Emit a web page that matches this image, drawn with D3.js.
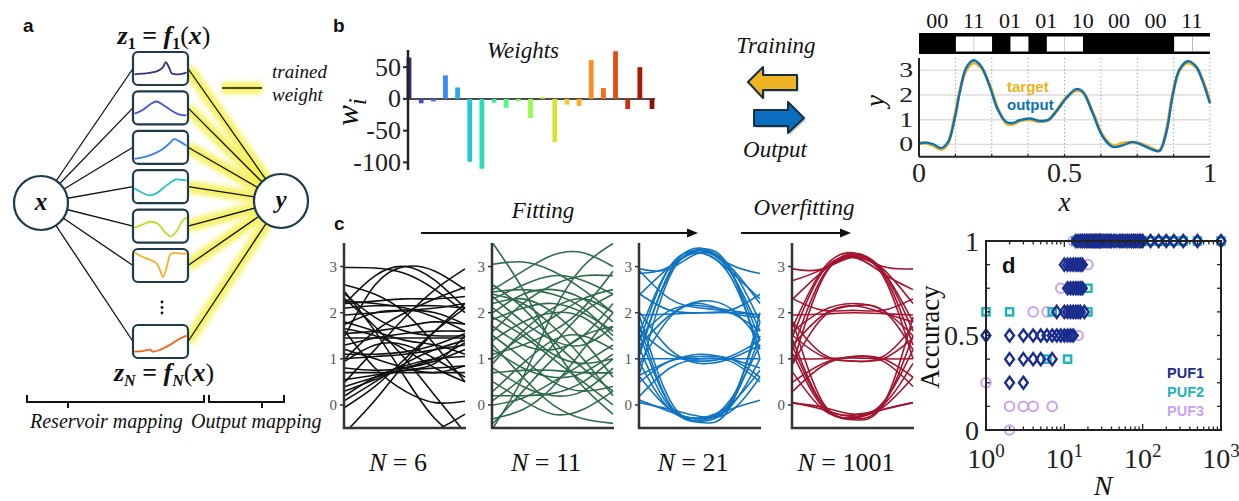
<!DOCTYPE html>
<html><head><meta charset="utf-8">
<script src="https://cdn.jsdelivr.net/npm/d3@7"></script>
<style>body{margin:0;background:#fff}svg{display:block}</style>
</head><body><script>
// ---------------- data ----------------
// (a) example reservoir feature curves, [x, z] pairs in unit box coordinates
const featureCurves = [
  [[0,0.3],[0.15,0.32],[0.3,0.35],[0.45,0.42],[0.55,0.55],[0.6,0.72],[0.66,0.55],[0.72,0.33],[0.85,0.3],[1,0.36]],
  [[0,0.3],[0.15,0.42],[0.3,0.62],[0.42,0.72],[0.55,0.6],[0.7,0.42],[0.85,0.28],[1,0.24]],
  [[0,0.1],[0.2,0.17],[0.4,0.3],[0.55,0.45],[0.68,0.65],[0.76,0.78],[0.85,0.72],[1,0.55]],
  [[0,0.45],[0.14,0.3],[0.28,0.2],[0.42,0.27],[0.6,0.52],[0.8,0.75],[0.9,0.74],[1,0.72]],
  [[0,0.45],[0.15,0.55],[0.3,0.65],[0.45,0.58],[0.58,0.3],[0.7,0.15],[0.82,0.35],[0.92,0.68],[1,0.8]],
  [[0,0.95],[0.15,0.8],[0.3,0.7],[0.42,0.58],[0.5,0.3],[0.55,0.1],[0.62,0.45],[0.7,0.9],[0.85,0.92],[1,0.9]],
  [[0,0.15],[0.15,0.17],[0.3,0.22],[0.35,0.15],[0.5,0.22],[0.7,0.4],[0.85,0.58],[1,0.7]]
];
const featureColors = ["#3b2f80", "#4755d6", "#3b82f0", "#27c3c6", "#b8df2a", "#f5b027", "#f0641c"];

// (b) trained output weights
const weights = [65, -7, -4, 37, 18, -99, -110, -6, -14, -4, -30, 3, -68, -9, -11, 61, 17, 75, -16, 50, -16];
const weightTicks = [50, 0, -50, -100];

// (b) encoded symbols and fitted waveform
const bitSymbols = ["00", "11", "01", "01", "10", "00", "00", "11"];
const fitX = [0, .025, .05, .077, .1, .122, .14, .162, .188, .214, .243, .271, .3, .323, .346, .38, .414, .443, .471, .506, .54, .563, .597, .632, .666, .7, .735, .769, .803, .826, .849, .872, .895, .923, .952, .975, 1];
const targetY = [0.05, 0.05, -0.05, -0.2, 0.05, 1.1, 2.15, 3.0, 3.3, 3.1, 2.4, 1.45, 0.85, 0.82, 0.95, 1.0, 0.92, 0.98, 1.35, 1.9, 2.18, 2.1, 1.3, 0.35, -0.05, 0.05, 0.08, 0.0, -0.18, -0.25, 0.5, 2.05, 3.0, 3.3, 3.12, 2.6, 1.7];
const outputY = [0.03, 0.07, 0.0, -0.15, 0.1, 1.0, 2.1, 3.1, 3.41, 3.16, 2.35, 1.4, 0.91, 0.87, 0.98, 1.05, 0.95, 0.98, 1.32, 1.87, 2.24, 2.14, 1.26, 0.3, -0.1, -0.04, 0.1, -0.04, -0.22, -0.27, 0.44, 2.0, 3.03, 3.37, 3.16, 2.55, 1.66];
const fitYTicks = [0, 1, 2, 3];
const fitXTicks = [0, 0.5, 1];

// (c) readout traces, sampled at readoutX
const readoutX = [0, 0.25, 0.5, 0.75, 1];
const readoutTicks = [0, 1, 2, 3];
const readoutN = ["6", "11", "21", "1001"];
const tracesN6 = [
  [2.98,2.97,2.85,2.5,2.0],[1.5,2.6,3.0,2.9,2.5],[2.2,2.8,3.0,2.7,2.1],[0.5,1.2,1.9,2.5,2.95],
  [2.45,1.6,0.6,-0.3,-0.8],[2.3,1.7,1.0,0.2,-0.6],[-0.6,0.1,0.9,1.6,2.2],[1.6,0.8,0.3,0.05,0.08],
  [0.1,0.5,0.9,1.2,1.4],[0.2,0.6,0.85,1.0,1.05],[0.3,0.55,0.8,1.0,1.35],[0.4,0.6,0.75,0.9,1.5],
  [0.55,0.65,0.75,0.8,0.85],[0.7,0.7,0.7,0.7,0.7],[0.8,0.75,0.8,0.95,1.2],[1.0,1.05,1.1,1.2,1.3],
  [1.1,1.1,1.15,1.3,1.55],[1.2,1.0,0.8,0.7,0.85],[1.3,1.45,1.55,1.6,1.6],[1.45,1.45,1.45,1.45,1.45],
  [1.55,1.6,1.7,1.8,1.75],[1.65,1.5,1.2,0.8,0.5],[1.75,2.0,2.05,2.0,1.75],[1.8,1.6,1.4,1.3,1.1],
  [1.95,2.0,2.05,2.1,2.2],[2.1,2.15,2.15,2.15,2.1],[2.2,2.25,2.3,2.3,2.35],[2.25,2.2,2.1,1.9,1.6],
  [2.4,1.9,1.6,1.5,1.5],[1.0,1.6,2.0,2.3,2.55],[-0.05,0.4,1.0,1.6,2.1],[0.95,1.3,1.3,1.0,0.6],
  [-0.9,-0.8,-0.7,-0.55,-0.2],[2.6,2.4,2.0,1.3,0.5]
];
const tracesN11 = [
  [3.05,3.1,2.9,2.5,2.0],[2.5,2.9,3.25,3.3,3.0],[-0.5,0.6,2.0,3.0,3.5],[3.5,2.5,1.3,0.4,-0.2],
  [2.45,2.5,2.4,2.1,1.5],[2.4,2.2,1.7,1.0,0.2],[2.3,2.6,2.8,2.7,2.4],[2.0,2.4,2.5,2.3,1.8],
  [1.9,1.5,1.0,0.5,0.0],[1.85,2.1,2.2,2.0,1.6],[1.6,2.2,2.6,2.8,2.8],[1.5,1.0,0.5,0.3,0.4],
  [1.4,1.8,2.0,1.9,1.4],[1.2,0.8,0.6,0.7,1.1],[1.0,1.5,1.9,2.3,2.5],[0.8,0.4,0.2,0.3,0.8],
  [0.7,0.75,0.75,0.7,0.7],[0.5,0.1,-0.2,-0.1,0.3],[0.2,0.2,0.25,0.5,1.0],[0.1,0.6,1.3,2.0,2.4],
  [-0.3,-0.1,0.4,1.2,2.0],[-0.4,0.3,1.0,1.5,1.7],[2.1,1.6,1.1,0.9,1.0],[2.2,2.3,2.0,1.4,0.6],
  [1.7,1.3,1.2,1.5,2.2],[0.3,0.9,1.4,1.5,1.2],[1.1,1.3,1.6,2.1,2.9],[2.6,2.1,1.4,0.8,0.3],
  [0.9,1.6,2.1,2.3,2.0],[1.3,0.6,0.0,-0.3,-0.4],[2.35,1.8,1.4,1.3,1.7],[0.0,0.15,0.5,0.9,1.3]
];
const tracesN21 = [
  [1.1,2.9,3.4,2.9,1.4],[0.7,2.8,3.35,3.0,1.8],[1.4,3.0,3.3,2.8,1.2],[1.6,3.0,3.35,2.9,1.6],
  [2.95,2.95,3.3,3.0,2.2],[2.85,3.0,3.35,3.05,2.85],[2.4,3.0,3.3,2.9,2.3],[1.2,2.85,3.38,2.95,1.0],
  [1.5,0.0,-0.35,0.0,1.5],[1.2,-0.05,-0.3,0.05,1.8],[0.9,-0.1,-0.3,-0.05,1.0],[1.9,0.1,-0.35,0.1,1.3],
  [0.1,-0.15,-0.3,-0.1,0.1],[0.05,-0.1,-0.25,-0.15,0.6],[1.7,0.0,-0.38,-0.05,2.0],[0.6,-0.1,-0.28,0.0,0.75],
  [1.3,1.95,2.2,2.0,1.9],[1.5,2.05,2.15,2.05,1.95],[2.4,2.05,2.0,2.05,2.4],[1.95,1.97,2.0,2.0,1.95],
  [0.9,1.9,2.25,2.1,1.4],[2.9,2.3,2.1,2.0,1.6],
  [0.5,0.95,1.05,1.0,0.6],[1.6,1.1,0.95,1.05,1.4],[1.0,1.0,1.0,1.0,1.0],[0.2,0.8,1.0,0.95,0.5],
  [2.0,1.2,0.9,1.0,1.3],[0.65,0.95,1.1,1.0,0.8]
];
const tracesN1001 = [
  [1.2,2.8,3.25,2.85,1.3],[0.9,2.75,3.28,2.9,1.6],[1.5,2.9,3.22,2.8,1.0],[2.95,2.95,3.2,3.0,2.95],
  [2.7,2.95,3.25,2.95,2.2],[1.7,2.95,3.3,2.9,1.8],[2.3,2.9,3.2,2.85,2.5],
  [1.4,0.0,-0.3,0.0,1.5],[1.1,-0.05,-0.28,0.05,1.2],[0.05,-0.1,-0.25,-0.1,0.05],[0.04,-0.05,-0.2,-0.1,0.05],
  [1.8,0.05,-0.32,0.0,1.9],[0.7,-0.1,-0.28,-0.05,0.6],[1.25,0.0,-0.22,0.0,0.9],
  [1.3,1.95,2.15,2.0,1.8],[1.95,1.97,2.0,1.98,1.95],[1.6,2.05,2.2,2.05,1.5],[2.3,2.05,2.05,2.05,2.3],
  [0.9,1.9,2.15,2.05,1.2],
  [0.5,0.9,1.05,1.0,0.6],[1.5,1.05,0.95,1.0,1.45],[1.0,1.0,1.02,1.0,1.0],[0.3,0.85,1.05,0.95,0.4],
  [1.8,1.1,0.95,1.05,1.7]
];

// (d) classification accuracy vs number of features N, [N, accuracy]
const puf3 = [
  [2,0],[2,0.125],[3,0.125],[4,0.125],[7,0.125],[1,0.25],[15,0.5],[4,0.625],[6,0.625],
  [9,0.75],[20,0.875],[13,1],[15,1],[20,1],[30,1],[50,1],[100,1]
];
const puf2 = [
  [1,0.625],[2,0.625],[7,0.625],[20,0.625],[6,0.375],[11,0.375],[12,0.5],[20,0.75],[13,0.875],
  [14,1],[16,1],[20,1],[25,1],[30,1],[40,1],[50,1],[70,1],[100,1],[126,1],[160,1],[200,1],[250,1],[330,1],[500,1],[1000,1]
];
const puf1 = [
  [2,0.25],[3,0.25],
  [2,0.375],[3,0.375],[4,0.375],[5,0.375],[7,0.375],
  [1,0.5],[2,0.5],[3,0.5],[4,0.5],[5,0.5],[6,0.5],[7,0.5],[8,0.5],[9,0.5],[10,0.5],[11,0.5],[12,0.5],[13,0.5],
  [8,0.625],[10,0.625],[11,0.625],[12,0.625],[13,0.625],[14,0.625],[15,0.625],[16,0.625],[18,0.625],
  [11,0.75],[12,0.75],[13,0.75],[14,0.75],[15,0.75],[16,0.75],[17,0.75],
  [10,0.875],[11,0.875],[12,0.875],[13,0.875],[14,0.875],[15,0.875],[16,0.875],[17,0.875],
  [14,1],[15,1],[16,1],[17,1],[18,1],[19,1],[20,1],[21,1],[22,1],[23,1],[24,1],[25,1],[26,1],[27,1],[28,1],[29,1],[30,1],
  [32,1],[34,1],[36,1],[38,1],[40,1],[43,1],[46,1],[50,1],[53,1],[56,1],[60,1],[64,1],[68,1],[72,1],[76,1],[80,1],
  [85,1],[90,1],[95,1],[100,1],[126,1],[160,1],[200,1],[250,1],[330,1],[500,1],[1000,1]
];
const accTicks = [0, 0.5, 1];
const nTicks = [1, 10, 100, 1000];

// ---------------- drawing ----------------
const SERIF = "'Liberation Serif','Times New Roman',serif";
const SANS = "'Liberation Sans',Arial,sans-serif";
const INK = "#1d3b4b";

const svg = d3.select("body").append("svg").attr("width", 1239).attr("height", 501);
const defs = svg.append("defs");
defs.append("filter").attr("id", "glow").attr("filterUnits", "userSpaceOnUse")
  .attr("x", 0).attr("y", 0).attr("width", 1239).attr("height", 501)
  .append("feGaussianBlur").attr("stdDeviation", 2.8);

function label(g, x, y, str, o = {}) {
  return g.append("text").attr("x", x).attr("y", y).text(str)
    .attr("font-family", o.family || SERIF).attr("font-size", o.size || 20)
    .attr("font-style", o.italic ? "italic" : null).attr("font-weight", o.bold ? "bold" : null)
    .attr("text-anchor", o.anchor || "start").attr("fill", o.fill || "#111");
}

// ===== panel a: reservoir network =====
const gA = svg.append("g");
label(gA, 23, 32, "a", {family: SANS, bold: true, size: 19});
const boxX = 133, boxW = 55, boxH = 33;
const boxTop = i => i < 6 ? 52 + i * 39.4 : 325;
const inNode = {x: 41, y: 203}, outNode = {x: 281, y: 201}, nodeR = 27;

featureCurves.forEach((c, i) => {
  const ym = boxTop(i) + boxH / 2;
  gA.append("line").attr("x1", inNode.x).attr("y1", inNode.y).attr("x2", boxX).attr("y2", ym)
    .attr("stroke", "#111").attr("stroke-width", 1.3);
});
featureCurves.forEach((c, i) => {
  const ym = boxTop(i) + boxH / 2;
  gA.append("line").attr("x1", boxX + boxW).attr("y1", ym).attr("x2", outNode.x).attr("y2", outNode.y)
    .attr("stroke", "#f3ee3c").attr("stroke-width", 12).attr("opacity", 0.8).attr("filter", "url(#glow)");
});
featureCurves.forEach((c, i) => {
  const ym = boxTop(i) + boxH / 2;
  gA.append("line").attr("x1", boxX + boxW).attr("y1", ym).attr("x2", outNode.x).attr("y2", outNode.y)
    .attr("stroke", "#111").attr("stroke-width", 1.3);
});
featureCurves.forEach((c, i) => {
  const t = boxTop(i);
  gA.append("rect").attr("x", boxX).attr("y", t).attr("width", boxW).attr("height", boxH).attr("rx", 5)
    .attr("fill", "#fff").attr("stroke", INK).attr("stroke-width", 2.2);
  const fx = d3.scaleLinear().domain([0, 1]).range([boxX + 1.5, boxX + boxW - 1.5]);
  const fy = d3.scaleLinear().domain([0, 1]).range([t + boxH - 2, t + 2]);
  gA.append("path").attr("d", d3.line().x(d => fx(d[0])).y(d => fy(d[1])).curve(d3.curveCatmullRom)(c))
    .attr("fill", "none").attr("stroke", featureColors[i]).attr("stroke-width", 1.8);
});
[302, 307.5, 313].forEach(y => gA.append("circle").attr("cx", 162).attr("cy", y).attr("r", 1.4).attr("fill", "#111"));

[inNode, outNode].forEach((n, k) => {
  gA.append("circle").attr("cx", n.x).attr("cy", n.y).attr("r", nodeR).attr("fill", "#fff")
    .attr("stroke", INK).attr("stroke-width", 2.2);
  label(gA, n.x, n.y + 7, k ? "y" : "x", {italic: true, bold: true, size: 25, anchor: "middle"});
});

function formula(cx, y, sub, subItalic) {
  const t = gA.append("text").attr("x", cx).attr("y", y).attr("text-anchor", "middle")
    .attr("font-family", SERIF).attr("font-size", 26).attr("font-weight", "bold").attr("fill", "#111");
  t.append("tspan").attr("font-style", "italic").text("z");
  t.append("tspan").attr("font-size", 16).attr("dy", 5).attr("font-style", subItalic ? "italic" : null).text(sub);
  t.append("tspan").attr("dy", -5).text(" = ");
  t.append("tspan").attr("font-style", "italic").text("f");
  t.append("tspan").attr("font-size", 16).attr("dy", 5).attr("font-style", subItalic ? "italic" : null).text(sub);
  t.append("tspan").attr("dy", -5).attr("font-weight", "normal").text("(");
  t.append("tspan").attr("font-style", "italic").text("x");
  t.append("tspan").attr("font-weight", "normal").text(")");
}
formula(164, 44, "1", false);
formula(164, 381, "N", true);

// legend: trained weight
gA.append("line").attr("x1", 222).attr("x2", 262).attr("y1", 88).attr("y2", 88)
  .attr("stroke", "#f3ee3c").attr("stroke-width", 12).attr("opacity", 0.8).attr("filter", "url(#glow)");
gA.append("line").attr("x1", 222).attr("x2", 262).attr("y1", 88).attr("y2", 88).attr("stroke", "#111").attr("stroke-width", 1.3);
label(gA, 272, 78, "trained", {italic: true, size: 19});
label(gA, 272, 101, "weight", {italic: true, size: 19});

// braces
const brace = (x0, x1, xm) => `M${x0},395 L${x0},402 L${x1},402 L${x1},395 M${xm},402 L${xm},408`;
gA.append("path").attr("d", brace(27, 204, 68)).attr("fill", "none").attr("stroke", "#111").attr("stroke-width", 2);
gA.append("path").attr("d", brace(209, 284, 262)).attr("fill", "none").attr("stroke", "#111").attr("stroke-width", 2);
label(gA, 30, 428, "Reservoir mapping", {italic: true, size: 20});
label(gA, 191, 428, "Output mapping", {italic: true, size: 20});

// ===== panel b: weights bar chart =====
const gB = svg.append("g");
label(gB, 333, 32, "b", {family: SANS, bold: true, size: 19});
const wy = d3.scaleLinear().domain([-112, 77]).range([170, 50]);
const wx = d3.scalePoint().domain(d3.range(weights.length)).range([409, 652]);
gB.append("line").attr("x1", 409).attr("x2", 655).attr("y1", wy(0)).attr("y2", wy(0)).attr("stroke", "#111").attr("stroke-width", 1.5);
gB.selectAll("rect.w").data(weights).join("rect")
  .attr("x", (d, i) => wx(i) - 2.4).attr("width", 4.8)
  .attr("y", d => wy(Math.max(0, d))).attr("height", d => Math.abs(wy(d) - wy(0)))
  .attr("fill", (d, i) => d3.interpolateTurbo(0.03 + 0.94 * i / (weights.length - 1)));
gB.append("line").attr("x1", 408).attr("x2", 408).attr("y1", 50).attr("y2", 170).attr("stroke", "#222").attr("stroke-width", 2.5);
weightTicks.forEach(v => {
  gB.append("line").attr("x1", 403).attr("x2", 408).attr("y1", wy(v)).attr("y2", wy(v)).attr("stroke", "#222").attr("stroke-width", 2);
  label(gB, 401, wy(v) + 8.5, String(v), {size: 26, anchor: "end", fill: "#222"});
});
gB.append("text").attr("transform", "translate(358,112) rotate(-90)").attr("text-anchor", "middle")
  .attr("font-family", SERIF).attr("font-size", 31).attr("font-style", "italic").attr("fill", "#111")
  .call(t => { t.append("tspan").text("w"); t.append("tspan").attr("dy", 8).attr("font-size", 25).text("i"); });
label(gB, 523, 58, "Weights", {italic: true, size: 23, anchor: "middle"});

// training / output arrows
label(gB, 776, 53, "Training", {italic: true, size: 23, anchor: "middle"});
label(gB, 775, 157, "Output", {italic: true, size: 23, anchor: "middle"});
const leftArrow = "M748,82 L763,67 L763,75 L797,75 L797,90 L763,90 L763,98 Z";
const rightArrow = "M804,118 L788,102 L788,110 L754,110 L754,126 L788,126 L788,133 Z";
gB.append("path").attr("d", leftArrow).attr("transform", "translate(2,2)").attr("fill", "#9aa3a8").attr("opacity", 0.5);
gB.append("path").attr("d", rightArrow).attr("transform", "translate(2,2)").attr("fill", "#9aa3a8").attr("opacity", 0.5);
gB.append("path").attr("d", leftArrow).attr("fill", "#f0b323").attr("stroke", "#14303f").attr("stroke-width", 2).attr("stroke-linejoin", "round");
gB.append("path").attr("d", rightArrow).attr("fill", "#0a6dbd").attr("stroke", "#14303f").attr("stroke-width", 2).attr("stroke-linejoin", "round");

// fitted waveform
const bx = d3.scaleLinear().domain([0, 1]).range([919, 1210]);
const by = d3.scaleLinear().domain([-0.5, 3.5]).range([156.7, 58]);
const bits = bitSymbols.join("").split("");
gB.append("rect").attr("x", bx(0)).attr("y", 33).attr("width", bx(1) - bx(0)).attr("height", 21).attr("fill", "#000");
bits.forEach((b, i) => {
  if (b === "1") gB.append("rect").attr("x", bx(i / bits.length) + 0.5).attr("y", 36.5)
    .attr("width", bx(1 / bits.length) - bx(0) - 0.2).attr("height", 15).attr("fill", "#fff");
});
bitSymbols.forEach((s, i) => label(gB, bx((i + 0.5) / bitSymbols.length), 28, s, {size: 22, anchor: "middle"}));
fitYTicks.forEach(v => gB.append("line").attr("x1", bx(0)).attr("x2", bx(1)).attr("y1", by(v)).attr("y2", by(v))
  .attr("stroke", "#dcdcdc").attr("stroke-width", 1.4));
d3.range(1, bitSymbols.length + 1).forEach(k => gB.append("line").attr("x1", bx(k / bitSymbols.length)).attr("x2", bx(k / bitSymbols.length))
  .attr("y1", by(3.5)).attr("y2", by(-0.5)).attr("stroke", "#9a9a9a").attr("stroke-width", 1).attr("stroke-dasharray", "1.2,2.5"));
const fitLine = ys => d3.line().x((d, i) => bx(fitX[i])).y(d => by(d)).curve(d3.curveCatmullRom)(ys);
gB.append("path").attr("d", fitLine(targetY)).attr("fill", "none").attr("stroke", "#eeb221").attr("stroke-width", 3.2);
gB.append("path").attr("d", fitLine(outputY)).attr("fill", "none").attr("stroke", "#0b72ba").attr("stroke-width", 2.4);
gB.append("line").attr("x1", bx(0)).attr("x2", bx(0)).attr("y1", by(3.5)).attr("y2", by(-0.5)).attr("stroke", "#222").attr("stroke-width", 2);
gB.append("line").attr("x1", bx(0)).attr("x2", bx(1)).attr("y1", by(-0.5)).attr("y2", by(-0.5)).attr("stroke", "#222").attr("stroke-width", 2);
d3.range(1, bitSymbols.length).forEach(k => gB.append("line").attr("x1", bx(k / bitSymbols.length)).attr("x2", bx(k / bitSymbols.length))
  .attr("y1", by(-0.5)).attr("y2", by(-0.5) - 3).attr("stroke", "#222").attr("stroke-width", 1.2));
// y tick labels: compact height, widened glyphs
fitYTicks.forEach(v => gB.append("text").attr("transform", `translate(913,${by(v) + 7}) scale(1.35,1)`)
  .attr("text-anchor", "end").attr("font-family", SERIF).attr("font-size", 20.5).attr("fill", "#222").text(String(v)));
fitXTicks.forEach(v => label(gB, bx(v), 182, String(v), {size: 28, anchor: "middle", fill: "#222"}));
label(gB, bx(0.5), 211, "x", {italic: true, size: 27, anchor: "middle"});
gB.append("text").attr("transform", "translate(884,101) rotate(-90)").attr("text-anchor", "middle")
  .attr("font-family", SERIF).attr("font-size", 27).attr("font-style", "italic").attr("fill", "#111").text("y");
label(gB, 1007, 92, "target", {family: SANS, bold: true, size: 15, fill: "#eeb221"});
label(gB, 1007, 110, "output", {family: SANS, bold: true, size: 15, fill: "#0b72ba"});

// ===== panel c: readout traces =====
const gC = svg.append("g");
label(gC, 334, 230, "c", {family: SANS, bold: true, size: 19});
label(gC, 543, 218, "Fitting", {italic: true, size: 23, anchor: "middle"});
label(gC, 804, 215, "Overfitting", {italic: true, size: 23, anchor: "middle"});
const arrow = (x0, x1, y) => {
  gC.append("line").attr("x1", x0).attr("x2", x1 - 8).attr("y1", y).attr("y2", y).attr("stroke", "#111").attr("stroke-width", 2);
  gC.append("path").attr("d", `M${x1},${y} L${x1 - 11},${y - 4.5} L${x1 - 11},${y + 4.5} Z`).attr("fill", "#111");
};
arrow(421, 698, 233);
arrow(741, 851, 233);

const panelsC = [
  {left: 344, traces: tracesN6, color: "#111111"},
  {left: 492, traces: tracesN11, color: "#2f6b4b"},
  {left: 639, traces: tracesN21, color: "#0f74c2"},
  {left: 792, traces: tracesN1001, color: "#a2142f"}
];
const cy = d3.scaleLinear().domain([-0.5, 3.5]).range([428, 243.5]);
panelsC.forEach((p, k) => {
  const cx = d3.scaleLinear().domain([0, 1]).range([p.left + 1, p.left + 121]);
  const cid = "clipc" + k;
  defs.append("clipPath").attr("id", cid).append("rect").attr("x", p.left).attr("y", 243).attr("width", 122).attr("height", 185);
  const g = gC.append("g").attr("clip-path", `url(#${cid})`);
  const ln = d3.line().x((d, i) => cx(readoutX[i])).y(d => cy(d)).curve(d3.curveNatural);
  g.selectAll("path").data(p.traces).join("path").attr("d", ln)
    .attr("fill", "none").attr("stroke", p.color).attr("stroke-width", 1.6);
  gC.append("path").attr("d", `M${p.left},243 L${p.left},428 L${p.left + 122},428`)
    .attr("fill", "none").attr("stroke", "#333").attr("stroke-width", 2.5);
  readoutTicks.forEach(v => {
    gC.append("line").attr("x1", p.left - 4).attr("x2", p.left).attr("y1", cy(v)).attr("y2", cy(v)).attr("stroke", "#333").attr("stroke-width", 1.5);
    label(gC, p.left - 7, cy(v) + 5, String(v), {size: 15, anchor: "end", fill: "#555"});
  });
  const t = gC.append("text").attr("x", p.left + 54).attr("y", 471).attr("text-anchor", "middle")
    .attr("font-family", SERIF).attr("font-size", 26).attr("fill", "#111");
  t.append("tspan").attr("font-style", "italic").text("N");
  t.append("tspan").text(" = " + readoutN[k]);
});

// ===== panel d: accuracy vs N =====
const gD = svg.append("g");
const xd = d3.scaleLog().domain([1, 1000]).range([986, 1221]);
const yd = d3.scaleLinear().domain([0, 1]).range([430, 241]);
gD.selectAll("circle.p3").data(puf3).join("circle")
  .attr("cx", d => xd(d[0])).attr("cy", d => yd(d[1])).attr("r", 4.8)
  .attr("fill", "none").attr("stroke", "#c9a3f0").attr("stroke-width", 2);
gD.selectAll("rect.p2").data(puf2).join("rect")
  .attr("x", d => xd(d[0]) - 3.6).attr("y", d => yd(d[1]) - 3.6).attr("width", 7.2).attr("height", 7.2)
  .attr("fill", "none").attr("stroke", "#1cb4b6").attr("stroke-width", 2.4);
gD.selectAll("path.p1").data(puf1).join("path")
  .attr("d", d => `M${xd(d[0])},${yd(d[1]) - 6} L${xd(d[0]) + 4.4},${yd(d[1])} L${xd(d[0])},${yd(d[1]) + 6} L${xd(d[0]) - 4.4},${yd(d[1])} Z`)
  .attr("fill", "none").attr("stroke", "#1b2d8e").attr("stroke-width", 2.4);
gD.append("rect").attr("x", xd(1)).attr("y", yd(1)).attr("width", xd(1000) - xd(1)).attr("height", yd(0) - yd(1))
  .attr("fill", "none").attr("stroke", "#222").attr("stroke-width", 2);
xd.ticks().forEach(v => {
  const major = nTicks.includes(v), len = major ? 6 : 3.5;
  gD.append("line").attr("x1", xd(v)).attr("x2", xd(v)).attr("y1", yd(0)).attr("y2", yd(0) - len).attr("stroke", "#222").attr("stroke-width", 1.3);
  gD.append("line").attr("x1", xd(v)).attr("x2", xd(v)).attr("y1", yd(1)).attr("y2", yd(1) + len).attr("stroke", "#222").attr("stroke-width", 1.3);
});
d3.range(0, 9).forEach(k => {
  const v = k / 8;
  gD.append("line").attr("x1", xd(1)).attr("x2", xd(1) + 4).attr("y1", yd(v)).attr("y2", yd(v)).attr("stroke", "#222").attr("stroke-width", 1.3);
  gD.append("line").attr("x1", xd(1000)).attr("x2", xd(1000) - 4).attr("y1", yd(v)).attr("y2", yd(v)).attr("stroke", "#222").attr("stroke-width", 1.3);
});
accTicks.forEach(v => label(gD, 979, yd(v) + 9.5, String(v), {size: 28, anchor: "end", fill: "#222"}));
nTicks.forEach(v => {
  const t = gD.append("text").attr("x", xd(v)).attr("y", 468).attr("text-anchor", "middle")
    .attr("font-family", SERIF).attr("font-size", 28).attr("fill", "#222");
  t.append("tspan").text("10");
  t.append("tspan").attr("dy", -11).attr("font-size", 19).text(String(Math.round(Math.log10(v))));
});
label(gD, 1103, 495, "N", {italic: true, size: 28, anchor: "middle"});
gD.append("text").attr("transform", "translate(939,337) rotate(-90)").attr("text-anchor", "middle")
  .attr("font-family", SERIF).attr("font-size", 27).attr("fill", "#111").text("Accuracy");
label(gD, 1002, 273, "d", {family: SANS, bold: true, size: 22});
label(gD, 1167, 378, "PUF1", {family: SANS, bold: true, size: 14.5, fill: "#1b2d8e"});
label(gD, 1167, 397, "PUF2", {family: SANS, bold: true, size: 14.5, fill: "#1cb4b6"});
label(gD, 1167, 416, "PUF3", {family: SANS, bold: true, size: 14.5, fill: "#c9a3f0"});
</script></body></html>
